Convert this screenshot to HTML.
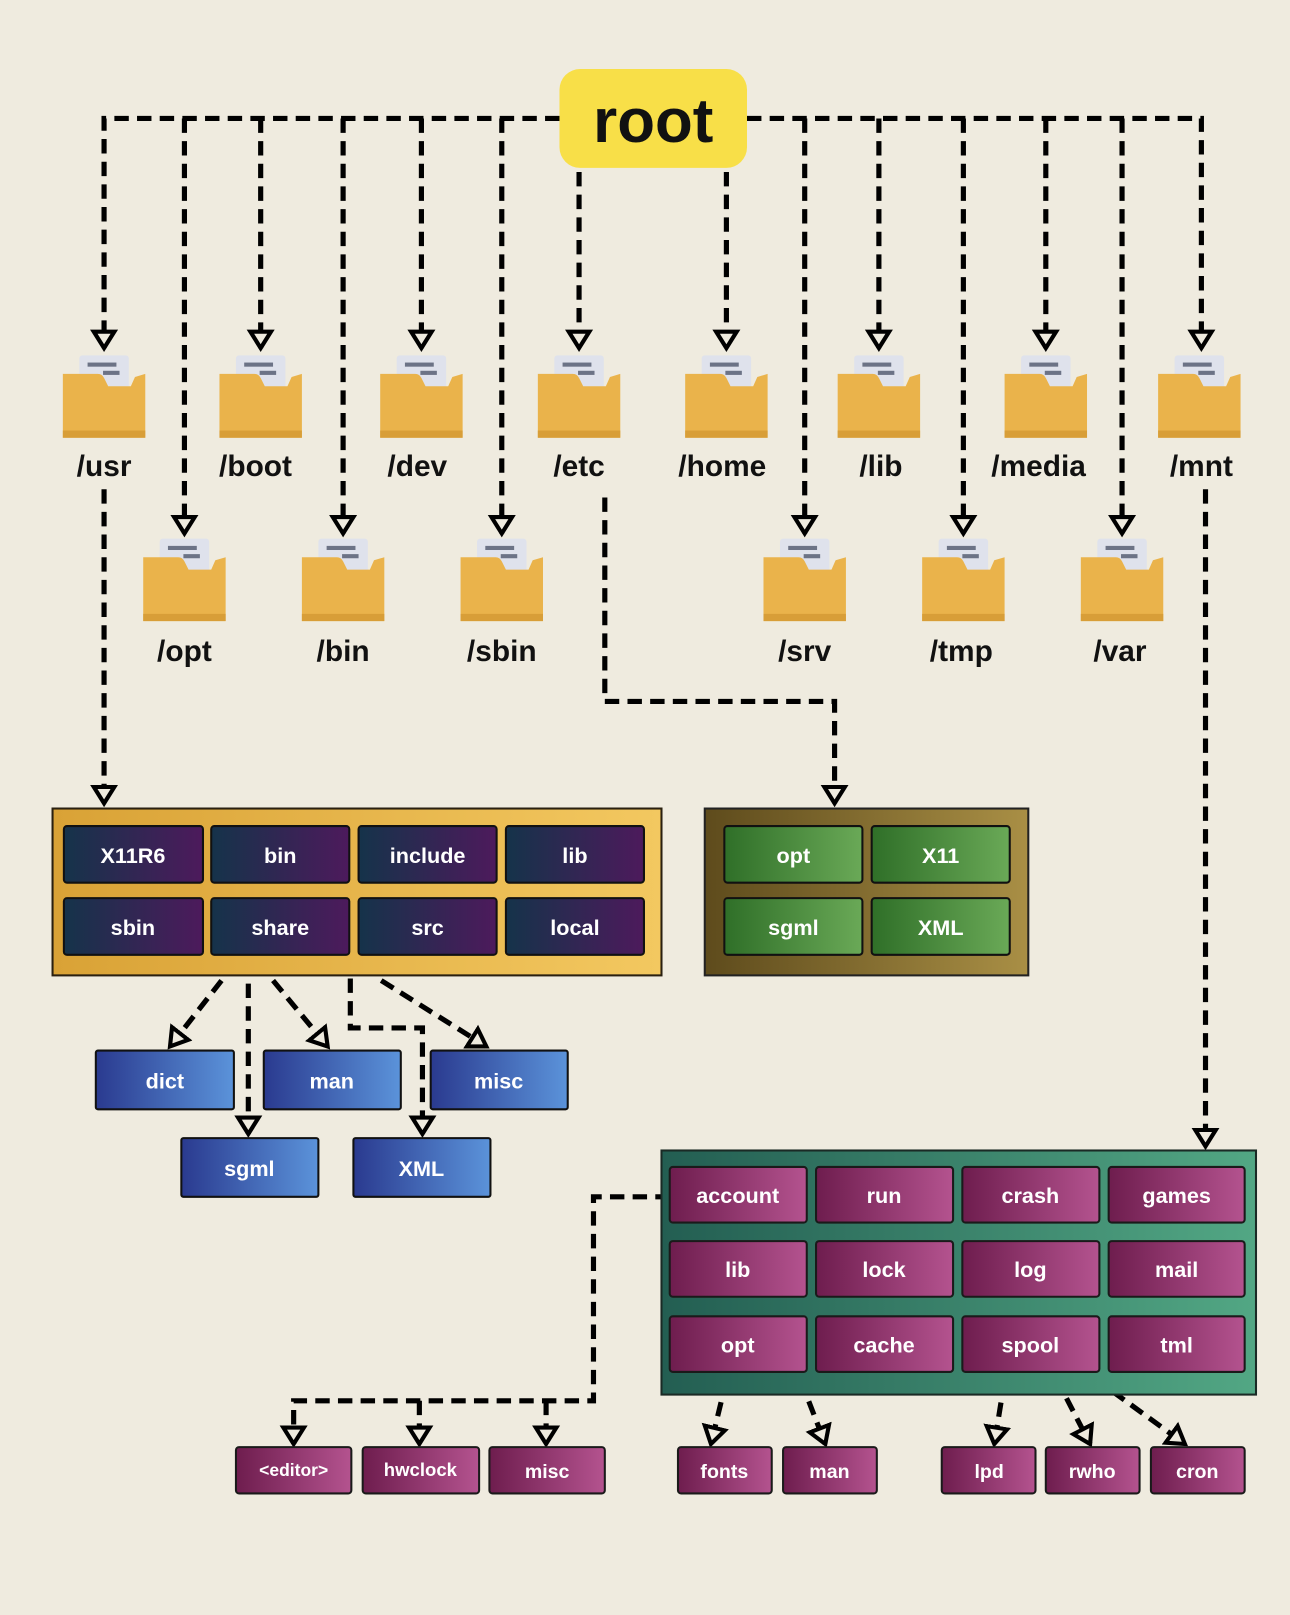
<!DOCTYPE html>
<html><head><meta charset="utf-8"><style>
html,body{margin:0;padding:0;background:#efebdf;}
svg{display:block;}
text{font-family:"Liberation Sans",sans-serif;font-weight:bold;}
</style></head><body>
<svg width="1290" height="1615" viewBox="0 0 1252 1568" preserveAspectRatio="none" xmlns="http://www.w3.org/2000/svg">
<defs>
<marker id="ar" markerUnits="userSpaceOnUse" markerWidth="30" markerHeight="30" refX="18" refY="12" orient="auto" viewBox="0 0 30 24">
<path d="M2,2 L18,12 L2,22 Z" fill="#efebdf" stroke="#000" stroke-width="4" stroke-linejoin="miter"/>
</marker>
<linearGradient id="gold" x1="0" x2="1"><stop offset="0" stop-color="#d9a236"/><stop offset="1" stop-color="#f3c860"/></linearGradient>
<linearGradient id="olive" x1="0" x2="1"><stop offset="0" stop-color="#5e4b1c"/><stop offset="1" stop-color="#a98f45"/></linearGradient>
<linearGradient id="teal" x1="0" x2="1"><stop offset="0" stop-color="#235e52"/><stop offset="1" stop-color="#52a784"/></linearGradient>
<linearGradient id="navy" x1="0" x2="1"><stop offset="0" stop-color="#15334a"/><stop offset="1" stop-color="#4d1a5c"/></linearGradient>
<linearGradient id="green" x1="0" x2="1"><stop offset="0" stop-color="#2f6f28"/><stop offset="1" stop-color="#6aa957"/></linearGradient>
<linearGradient id="blue" x1="0" x2="1"><stop offset="0" stop-color="#2a3a8f"/><stop offset="1" stop-color="#5b93da"/></linearGradient>
<linearGradient id="mag" x1="0" x2="1"><stop offset="0" stop-color="#6e1d4e"/><stop offset="1" stop-color="#b4538f"/></linearGradient>
<g id="folder">
<rect x="-24" y="0" width="48" height="46" rx="3" fill="#dfe2ec"/>
<rect x="-16" y="7" width="28" height="4" fill="#6c7386"/>
<rect x="-1" y="15" width="16" height="4" fill="#6c7386"/>
<path d="M-40,18 L-6,18 Q-2,18 0,22 L4,30 L26,30 L30,21 L40,18 L40,80 L-40,80 Z" fill="#eab34b"/>
<rect x="-40" y="73" width="80" height="7" fill="#d89e38"/>
</g>
</defs>

<g fill="none" stroke="#000" stroke-width="5" stroke-dasharray="14 8">
<path d="M543,115 L101,115 L101,338" marker-end="url(#ar)"/>
<path d="M179,115 L179,518" marker-end="url(#ar)"/>
<path d="M253,115 L253,338" marker-end="url(#ar)"/>
<path d="M333,115 L333,518" marker-end="url(#ar)"/>
<path d="M409,115 L409,338" marker-end="url(#ar)"/>
<path d="M487,115 L487,518" marker-end="url(#ar)"/>
<path d="M562,167 L562,338" marker-end="url(#ar)"/>
<path d="M705,167 L705,338" marker-end="url(#ar)"/>
<path d="M725,115 L1166,115 L1166,338" marker-end="url(#ar)"/>
<path d="M781,115 L781,518" marker-end="url(#ar)"/>
<path d="M853,115 L853,338" marker-end="url(#ar)"/>
<path d="M935,115 L935,518" marker-end="url(#ar)"/>
<path d="M1015,115 L1015,338" marker-end="url(#ar)"/>
<path d="M1089,115 L1089,518" marker-end="url(#ar)"/>
<path d="M101,475 L101,780" marker-end="url(#ar)"/>
<path d="M587,483 L587,681 L810,681 L810,780" marker-end="url(#ar)"/>
<path d="M1170,475 L1170,1113" marker-end="url(#ar)"/>
<path d="M215,952 L165,1016" marker-end="url(#ar)"/>
<path d="M241,955 L241,1101" marker-end="url(#ar)"/>
<path d="M265,952 L318,1016" marker-end="url(#ar)"/>
<path d="M340,950 L340,998 L410,998 L410,1101" marker-end="url(#ar)"/>
<path d="M370,952 L472,1016" marker-end="url(#ar)"/>
<path d="M650,1162 L576,1162 L576,1360 L285,1360 L285,1402" marker-end="url(#ar)"/>
<path d="M407,1360 L407,1402" marker-end="url(#ar)"/>
<path d="M530,1360 L530,1402" marker-end="url(#ar)"/>
<path d="M705,1340 L690,1402" marker-end="url(#ar)"/>
<path d="M777,1340 L801,1402" marker-end="url(#ar)"/>
<path d="M975,1340 L965,1402" marker-end="url(#ar)"/>
<path d="M1025,1338 L1058,1402" marker-end="url(#ar)"/>
<path d="M1062,1338 L1150,1402" marker-end="url(#ar)"/>
</g>

<rect x="543" y="67" width="182" height="96" rx="20" fill="#f8df48"/>
<text x="634" y="138" font-size="60" text-anchor="middle" fill="#111">root</text>

<g>
<use href="#folder" x="101" y="345"/><use href="#folder" x="253" y="345"/><use href="#folder" x="409" y="345"/>
<use href="#folder" x="562" y="345"/><use href="#folder" x="705" y="345"/><use href="#folder" x="853" y="345"/>
<use href="#folder" x="1015" y="345"/><use href="#folder" x="1164" y="345"/>
<use href="#folder" x="179" y="523"/><use href="#folder" x="333" y="523"/><use href="#folder" x="487" y="523"/>
<use href="#folder" x="781" y="523"/><use href="#folder" x="935" y="523"/><use href="#folder" x="1089" y="523"/>
</g>
<g font-size="29" text-anchor="middle" fill="#111">
<text x="101" y="462">/usr</text><text x="248" y="462">/boot</text><text x="405" y="462">/dev</text>
<text x="562" y="462">/etc</text><text x="701" y="462">/home</text><text x="855" y="462">/lib</text>
<text x="1008" y="462">/media</text><text x="1166" y="462">/mnt</text>
<text x="179" y="642">/opt</text><text x="333" y="642">/bin</text><text x="487" y="642">/sbin</text>
<text x="781" y="642">/srv</text><text x="933" y="642">/tmp</text><text x="1087" y="642">/var</text>
</g>

<rect x="51" y="785" width="591" height="162" fill="url(#gold)" stroke="#2a2010" stroke-width="2"/>
<g stroke="#111" stroke-width="2" fill="url(#navy)">
<rect x="62" y="802" width="135" height="55" rx="3"/><rect x="205" y="802" width="134" height="55" rx="3"/>
<rect x="348" y="802" width="134" height="55" rx="3"/><rect x="491" y="802" width="134" height="55" rx="3"/>
<rect x="62" y="872" width="135" height="55" rx="3"/><rect x="205" y="872" width="134" height="55" rx="3"/>
<rect x="348" y="872" width="134" height="55" rx="3"/><rect x="491" y="872" width="134" height="55" rx="3"/>
</g>
<g font-size="21" fill="#fff" text-anchor="middle">
<text x="129" y="838">X11R6</text><text x="272" y="838">bin</text><text x="415" y="838">include</text><text x="558" y="838">lib</text>
<text x="129" y="908">sbin</text><text x="272" y="908">share</text><text x="415" y="908">src</text><text x="558" y="908">local</text>
</g>

<rect x="684" y="785" width="314" height="162" fill="url(#olive)" stroke="#222" stroke-width="2"/>
<g stroke="#111" stroke-width="2" fill="url(#green)">
<rect x="703" y="802" width="134" height="55" rx="3"/><rect x="846" y="802" width="134" height="55" rx="3"/>
<rect x="703" y="872" width="134" height="55" rx="3"/><rect x="846" y="872" width="134" height="55" rx="3"/>
</g>
<g font-size="21" fill="#fff" text-anchor="middle">
<text x="770" y="838">opt</text><text x="913" y="838">X11</text><text x="770" y="908">sgml</text><text x="913" y="908">XML</text>
</g>

<g stroke="#111" stroke-width="2" fill="url(#blue)">
<rect x="93" y="1020" width="134" height="57" rx="2"/><rect x="256" y="1020" width="133" height="57" rx="2"/>
<rect x="418" y="1020" width="133" height="57" rx="2"/><rect x="176" y="1105" width="133" height="57" rx="2"/>
<rect x="343" y="1105" width="133" height="57" rx="2"/>
</g>
<g font-size="21" fill="#fff" text-anchor="middle">
<text x="160" y="1057">dict</text><text x="322" y="1057">man</text><text x="484" y="1057">misc</text>
<text x="242" y="1142">sgml</text><text x="409" y="1142">XML</text>
</g>

<rect x="642" y="1117" width="577" height="237" fill="url(#teal)" stroke="#1a2a25" stroke-width="2"/>
<g stroke="#1a1a1a" stroke-width="2" fill="url(#mag)">
<rect x="650" y="1133" width="133" height="54" rx="3"/><rect x="792" y="1133" width="133" height="54" rx="3"/>
<rect x="934" y="1133" width="133" height="54" rx="3"/><rect x="1076" y="1133" width="132" height="54" rx="3"/>
<rect x="650" y="1205" width="133" height="54" rx="3"/><rect x="792" y="1205" width="133" height="54" rx="3"/>
<rect x="934" y="1205" width="133" height="54" rx="3"/><rect x="1076" y="1205" width="132" height="54" rx="3"/>
<rect x="650" y="1278" width="133" height="54" rx="3"/><rect x="792" y="1278" width="133" height="54" rx="3"/>
<rect x="934" y="1278" width="133" height="54" rx="3"/><rect x="1076" y="1278" width="132" height="54" rx="3"/>
</g>
<g font-size="21" fill="#fff" text-anchor="middle">
<text x="716" y="1168">account</text><text x="858" y="1168">run</text><text x="1000" y="1168">crash</text><text x="1142" y="1168">games</text>
<text x="716" y="1240">lib</text><text x="858" y="1240">lock</text><text x="1000" y="1240">log</text><text x="1142" y="1240">mail</text>
<text x="716" y="1313">opt</text><text x="858" y="1313">cache</text><text x="1000" y="1313">spool</text><text x="1142" y="1313">tml</text>
</g>

<g stroke="#1a1a1a" stroke-width="2" fill="url(#mag)">
<rect x="229" y="1405" width="112" height="45" rx="3"/><rect x="352" y="1405" width="113" height="45" rx="3"/>
<rect x="475" y="1405" width="112" height="45" rx="3"/><rect x="658" y="1405" width="91" height="45" rx="3"/>
<rect x="760" y="1405" width="91" height="45" rx="3"/><rect x="914" y="1405" width="91" height="45" rx="3"/>
<rect x="1015" y="1405" width="91" height="45" rx="3"/><rect x="1117" y="1405" width="91" height="45" rx="3"/>
</g>
<g font-size="19" fill="#fff" text-anchor="middle">
<text x="285" y="1433" font-size="17">&lt;editor&gt;</text><text x="408" y="1433" font-size="18">hwclock</text><text x="531" y="1435">misc</text>
<text x="703" y="1435">fonts</text><text x="805" y="1435">man</text><text x="960" y="1435">lpd</text>
<text x="1060" y="1435">rwho</text><text x="1162" y="1435">cron</text>
</g>
</svg>
</body></html>
